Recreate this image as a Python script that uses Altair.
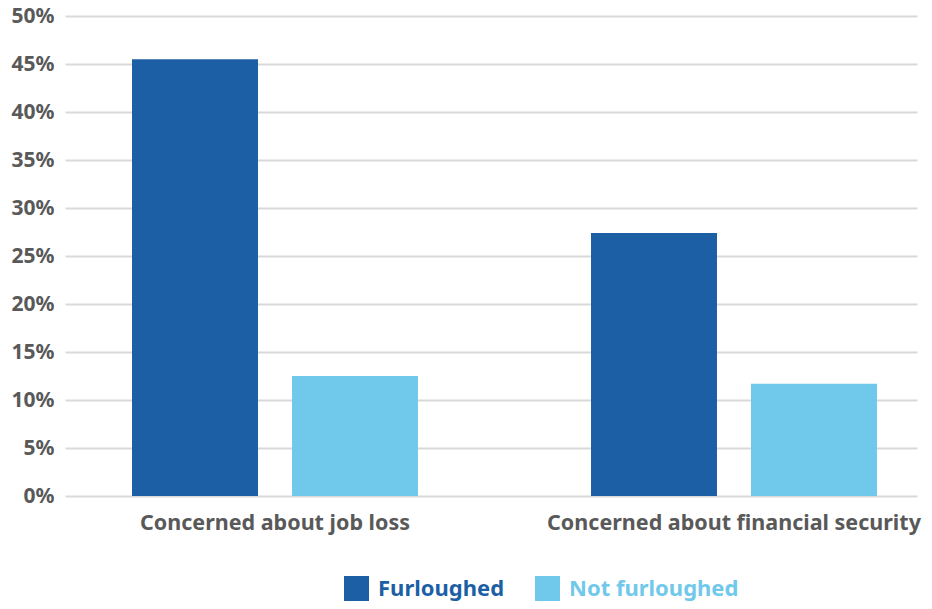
import altair as alt
import pandas as pd

categories = ["Concerned about job loss", "Concerned about financial security"]
groups = ["Furloughed", "Not furloughed"]
furloughed = [0.455, 0.274]
not_furloughed = [0.125, 0.117]
colors = ["#1d5fa5", "#70c8ea"]

rows = []
for i, c in enumerate(categories):
    rows.append({"category": c, "group": groups[0], "value": furloughed[i]})
    rows.append({"category": c, "group": groups[1], "value": not_furloughed[i]})
df = pd.DataFrame(rows)

FONT = "Noto Sans"
GRAY = "#595959"

chart = alt.Chart(df).mark_bar().encode(
    x=alt.X("category:N", sort=categories, title=None,
            scale=alt.Scale(paddingInner=0.377, paddingOuter=0.1166, align=0.626),
            axis=alt.Axis(labelAngle=0, labelFont=FONT, labelFontSize=21.5,
                          labelFontWeight="bold", labelColor=GRAY, labelPadding=16,
                          labelLimit=600, ticks=False, domain=False)),
    xOffset=alt.XOffset("group:N", sort=groups,
                        scale=alt.Scale(paddingInner=0.2125, paddingOuter=0)),
    y=alt.Y("value:Q", title=None,
            scale=alt.Scale(domain=[0, 0.5], nice=False),
            axis=alt.Axis(values=[i * 0.05 for i in range(11)], format=".0%",
                          labelFont=FONT, labelFontSize=21, labelFontWeight="bold",
                          labelColor=GRAY, labelPadding=11, ticks=False, domain=False,
                          grid=True, gridColor="#d9d9d9", gridWidth=2)),
    color=alt.Color("group:N", sort=groups, title=None,
                    scale=alt.Scale(domain=groups, range=colors),
                    legend=alt.Legend(orient="none", legendX=279, legendY=560,
                                      direction="horizontal", symbolType="square",
                                      symbolSize=625, symbolStrokeWidth=0,
                                      labelFont=FONT, labelFontSize=22,
                                      labelFontWeight="bold", labelOffset=9,
                                      columnPadding=30, labelLimit=400,
                                      labelColor={"expr": "datum.value === 'Furloughed' ? '#1d5fa5' : '#70c8ea'"})),
).properties(
    width=852, height=480,
    autosize=alt.AutoSizeParams(type="none"),
    padding={"top": 8, "left": 57, "right": 7, "bottom": 105}
).configure_view(stroke=None)

chart.save("out.html", embed_options={"renderer": "svg", "actions": False})
